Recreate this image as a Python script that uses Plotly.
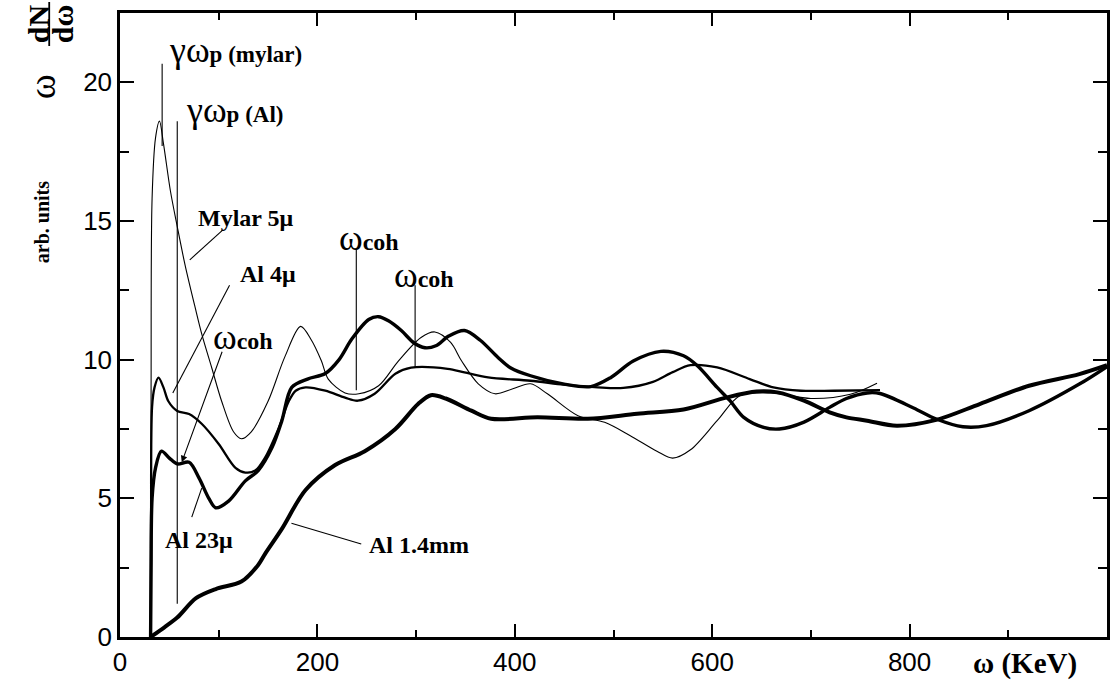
import plotly.graph_objects as go

# ---- data (omega in keV, omega dN/domega in arb. units) ----
mylar_w = [31, 31.5, 32.5, 36, 40, 44, 51, 58, 66, 76, 83, 93, 103, 115, 123, 133, 150, 167, 183, 194,
           204, 211, 228, 242, 262, 282, 305, 319, 335, 346, 363, 380, 398, 416, 433, 464, 491, 517,
           544, 560, 578, 605, 628, 660, 700, 740, 767]
mylar_v = [0, 9, 15.8, 18.0, 18.6, 17.8, 16.1, 14.8, 13.4, 11.9, 10.9, 9.7, 8.5, 7.4, 7.15, 7.4, 8.5, 10.1, 11.2, 10.7,
           9.96, 9.3, 8.8, 8.77, 9.06, 9.95, 10.8, 11.0, 10.62, 9.96, 9.13, 8.77, 8.95, 9.13, 8.77, 7.98, 7.74, 7.26,
           6.7, 6.45, 6.75, 7.8, 8.7, 8.8, 8.6, 8.75, 9.15]

al4_w = [31, 31.5, 32.5, 35, 39, 44, 49, 58, 70, 83, 100, 117, 127, 137, 147, 161, 171, 178, 188, 208,
         228, 241, 258, 279, 295, 332, 349, 373, 416, 450, 484, 510, 540, 560, 578, 605, 638, 662, 690, 723, 770]
al4_v = [0, 4, 8.3, 9.0, 9.35, 9.0, 8.5, 8.15, 8.04, 7.68, 6.96, 6.1, 5.93, 6.0, 6.47, 7.55, 8.5, 8.88, 9.0, 8.88,
         8.63, 8.52, 8.77, 9.49, 9.71, 9.67, 9.54, 9.36, 9.24, 9.1, 9.0, 8.98, 9.2, 9.55, 9.8, 9.72, 9.3, 9.0, 8.88, 8.88, 8.9]

al23_w = [31, 31.5, 32.5, 36, 42, 50, 58, 70, 80, 90, 97, 110, 127, 140, 154, 164, 174, 190, 208, 222,
          235, 252, 262, 272, 285, 298, 309, 320, 333, 349, 365, 383, 396, 416, 450, 477, 497, 520, 548, 571,
          585, 605, 618, 632, 652, 668, 693, 719, 736, 757, 770, 804, 827, 854, 878, 921, 972, 1000]
al23_v = [0, 2.5, 5.0, 6.1, 6.7, 6.45, 6.24, 6.3, 5.74, 5.0, 4.66, 4.9, 5.63, 6.0, 6.83, 7.8, 9.0, 9.3, 9.5, 10.0,
          10.75, 11.45, 11.55, 11.4, 11.05, 10.6, 10.43, 10.5, 10.85, 11.05, 10.7, 10.08, 9.7, 9.42, 9.12, 9.03, 9.35, 9.95, 10.3, 10.14,
          9.78, 9.0, 8.52, 7.92, 7.56, 7.5, 7.75, 8.28, 8.6, 8.8, 8.78, 8.26, 7.86, 7.58, 7.62, 8.16, 9.12, 9.75]

al14_w = [31, 45, 58, 77, 97, 123, 140, 147, 164, 188, 218, 248, 279, 302, 315, 330, 356, 376, 423, 474,
          524, 571, 615, 645, 666, 693, 719, 736, 757, 787, 827, 871, 921, 972, 1000]
al14_v = [0, 0.35, 0.7, 1.4, 1.73, 2.0, 2.6, 3.0, 3.9, 5.3, 6.2, 6.7, 7.5, 8.4, 8.72, 8.6, 8.16, 7.87, 7.92, 7.87,
          8.05, 8.2, 8.64, 8.85, 8.82, 8.52, 8.1, 7.92, 7.8, 7.62, 7.83, 8.4, 9.06, 9.48, 9.8]

x_tickvals = [0, 200, 400, 600, 800]
x_ticktext = ["0", "200", "400", "600", "800"]
y_tickvals = [0, 5, 10, 15, 20]
y_ticktext = ["0", "5", "10", "15", "20"]

# ---- figure ----
W, H = 1113, 681
ML, MR, MT, MB = 120, 3, 13, 44
PW, PH = W - ML - MR, H - MT - MB

def px(x):
    return (x - ML) / PW

def py(y):
    return (H - MB - y) / PH

fig = go.Figure()
series = [
    ("Mylar 5μ", mylar_w, mylar_v, 1.1),
    ("Al 4μ", al4_w, al4_v, 2.3),
    ("Al 23μ", al23_w, al23_v, 3.4),
    ("Al 1.4mm", al14_w, al14_v, 4.0),
]
for name, xs, ys, lw in series:
    fig.add_trace(go.Scatter(x=xs, y=ys, mode="lines", name=name,
                             line=dict(color="black", width=lw, shape="spline", smoothing=0.9)))

SERIF = "Liberation Serif"
SANS = "Liberation Sans"

ann = []
def txt(x, y, text, size, xanchor="left", angle=0, yanchor="middle"):
    ann.append(dict(x=px(x), y=py(y), xref="paper", yref="paper", text=text, showarrow=False,
                    xanchor=xanchor, yanchor=yanchor, textangle=angle,
                    font=dict(family=SERIF, size=size, color="black")))

COH = "ω<span style='font-size:24px'><b>coh</b></span>"
# peak labels
txt(167, 50, "γω<span style='font-size:23px'><b>p</b></span><span style='font-size:23px'><b> (mylar)</b></span>", 36)
txt(184, 110, "γω<span style='font-size:23px'><b>p</b></span><span style='font-size:23px'><b> (Al)</b></span>", 36)
txt(196, 218, "<b>Mylar 5μ</b>", 24)
txt(238, 274, "<b>Al 4μ</b>", 24)
txt(211, 337, COH, 36)
txt(338, 238, COH, 36)
txt(393, 275, COH, 36)
txt(163, 540, "<b>Al 23μ</b>", 24)
txt(368, 545, "<b>Al 1.4mm</b>", 24)
txt(974, 663, "<b>ω (KeV)</b>", 29)

# y-axis title pieces (rotated)
txt(42, 87, "ω", 38, xanchor="center", angle=-90)
txt(38, 24, "<b>dN</b>", 30, xanchor="center", angle=-90)
txt(62, 24, "<b>dω</b>", 30, xanchor="center", angle=-90)
txt(42, 222, "<b>arb. units</b>", 20, xanchor="center", angle=-90)

# arrow for first omega_coh
ann.append(dict(x=62.6, y=6.3, xref="x", yref="y", ax=104, ay=10.34, axref="x", ayref="y",
                text="", showarrow=True, arrowhead=2, arrowsize=1.2, arrowwidth=1.1, arrowcolor="black"))

shapes = []
def seg(x0, y0, x1, y1, w=1.1):
    shapes.append(dict(type="line", xref="x", yref="y", x0=x0, y0=y0, x1=x1, y1=y1,
                       line=dict(color="black", width=w)))

def pseg(x0, y0, x1, y1, w=1.8):
    shapes.append(dict(type="line", xref="paper", yref="paper", x0=px(x0), y0=py(y0), x1=px(x1), y1=py(y1),
                       line=dict(color="black", width=w)))

# markers
seg(42.7, 20.67, 42.7, 17.7)
seg(58.0, 18.6, 58.0, 1.2)
seg(239.4, 13.95, 239.4, 8.9)
seg(299.0, 12.68, 299.0, 9.73)
# leader lines
seg(104, 14.67, 70.7, 13.6)
seg(111, 12.68, 53.5, 8.8)
seg(72.7, 4.32, 82.8, 5.37)
seg(244.4, 3.35, 173.7, 4.1)
# fraction bar of the y title
pseg(49, 2, 49, 46)

fig.update_layout(width=W, height=H, margin=dict(l=ML, r=MR, t=MT, b=MB),
                  plot_bgcolor="white", paper_bgcolor="white", showlegend=False,
                  annotations=ann, shapes=shapes)

fig.update_xaxes(range=[0, 1000], showline=True, linecolor="black", linewidth=2.5, mirror="ticks",
                 ticks="inside", ticklen=13, tickwidth=2, tickcolor="black",
                 tickvals=x_tickvals, ticktext=x_ticktext,
                 tickfont=dict(family=SANS, size=26, color="black"),
                 minor=dict(tick0=0, dtick=100, ticks="inside", ticklen=7, tickwidth=1.5, tickcolor="black"),
                 showgrid=False, zeroline=False)
fig.update_yaxes(range=[0, 22.5], showline=True, linecolor="black", linewidth=2.5, mirror="ticks",
                 ticks="inside", ticklen=14, tickwidth=2, tickcolor="black",
                 tickvals=y_tickvals, ticktext=y_ticktext,
                 tickfont=dict(family=SANS, size=26, color="black"),
                 minor=dict(tick0=0, dtick=2.5, ticks="inside", ticklen=9, tickwidth=1.5, tickcolor="black"),
                 showgrid=False, zeroline=False)

fig.write_html("out.html", config={"displayModeBar": False},
               post_script="document.body.style.margin='0';document.body.style.overflow='hidden';")
